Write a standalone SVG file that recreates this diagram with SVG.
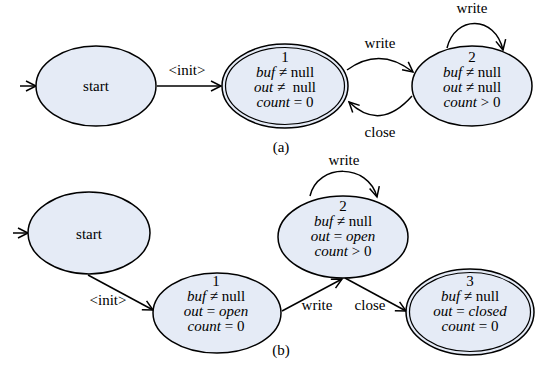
<svg xmlns="http://www.w3.org/2000/svg" width="542" height="369" viewBox="0 0 542 369">
<style>
.n{fill:#e5ebf6;stroke:#000;stroke-width:1.5}
.d{fill:none;stroke:#000;stroke-width:1.2}
.e{fill:none;stroke:#000;stroke-width:1.5}
text{font-family:'Liberation Serif','DejaVu Serif',serif;font-size:15px;fill:#000;text-anchor:middle;white-space:pre}
.i{font-style:italic}
</style>
<defs>
<marker id="ah" markerUnits="userSpaceOnUse" markerWidth="14" markerHeight="14" refX="11" refY="6" orient="auto" viewBox="0 0 14 12">
<path d="M1,1 L11,6 L1,11" fill="none" stroke="#000" stroke-width="1.5"/>
</marker>
</defs>
<g id="connectors">
<path class="e" d="M20,86 L36,86" marker-end="url(#ah)"/>
<path class="e" d="M157,86 L221,86" marker-end="url(#ah)"/>
<path class="e" d="M347,70 Q380,46 413,72" marker-end="url(#ah)"/>
<path class="e" d="M412,96 Q380,132 349,102" marker-end="url(#ah)"/>
<path class="e" d="M447,48 C455,15 495,15 503,50" marker-end="url(#ah)"/>
<path class="e" d="M13,233 L28,233" marker-end="url(#ah)"/>
<path class="e" d="M88,275 L153,310" marker-end="url(#ah)"/>
<path class="e" d="M310,196 C318,163 368,163 377,197" marker-end="url(#ah)"/>
<path class="e" d="M282,311 L342,279" marker-end="url(#ah)"/>
<path class="e" d="M345,278 L406,311" marker-end="url(#ah)"/>
<text x="187" y="75">&lt;init&gt;</text>
<text x="380" y="48">write</text>
<text x="380" y="137">close</text>
<text x="472" y="13">write</text>
<text x="344" y="165">write</text>
<text x="108" y="305">&lt;init&gt;</text>
<text x="317" y="310">write</text>
<text x="370" y="310">close</text>
</g>
<g id="a-start">
<ellipse class="n" cx="96" cy="86" rx="60" ry="40"/>
<text x="96" y="91" font-size="16">start</text>
</g>
<g id="a-state1">
<ellipse class="n" cx="285" cy="86" rx="63" ry="42"/>
<ellipse class="d" cx="285" cy="86" rx="59.5" ry="38.5"/>
<text x="285" y="62">1</text>
<text x="285" y="77"><tspan class="i">buf</tspan> ≠ null</text>
<text x="285" y="92"><tspan class="i">out</tspan> ≠  null</text>
<text x="285" y="107"><tspan class="i">count</tspan> = 0</text>
</g>
<g id="a-state2">
<ellipse class="n" cx="472" cy="86" rx="60" ry="40"/>
<text x="472" y="62">2</text>
<text x="472" y="77"><tspan class="i">buf</tspan> ≠ null</text>
<text x="472" y="92"><tspan class="i">out</tspan> ≠ null</text>
<text x="472" y="107"><tspan class="i">count</tspan> &gt; 0</text>
</g>
<text x="281" y="152">(a)</text>
<g id="b-start">
<ellipse class="n" cx="89" cy="233" rx="61" ry="41"/>
<text x="89" y="239" font-size="16">start</text>
</g>
<g id="b-state1">
<ellipse class="n" cx="217" cy="313" rx="64" ry="40"/>
<text x="216" y="286">1</text>
<text x="216" y="301"><tspan class="i">buf</tspan> ≠ null</text>
<text x="216" y="316"><tspan class="i">out</tspan> = <tspan class="i">open</tspan></text>
<text x="216" y="331"><tspan class="i">count</tspan> = 0</text>
</g>
<g id="b-state2">
<ellipse class="n" cx="343" cy="237" rx="65" ry="41"/>
<text x="343" y="211">2</text>
<text x="343" y="226"><tspan class="i">buf</tspan> ≠ null</text>
<text x="343" y="241"><tspan class="i">out</tspan> = <tspan class="i">open</tspan></text>
<text x="343" y="256"><tspan class="i">count</tspan> &gt; 0</text>
</g>
<g id="b-state3">
<ellipse class="n" cx="470" cy="312" rx="64" ry="43"/>
<ellipse class="d" cx="470" cy="312" rx="60.5" ry="39.5"/>
<text x="470" y="286">3</text>
<text x="470" y="301"><tspan class="i">buf</tspan> ≠ null</text>
<text x="470" y="316"><tspan class="i">out</tspan> = <tspan class="i">closed</tspan></text>
<text x="470" y="331"><tspan class="i">count</tspan> = 0</text>
</g>
<text x="281" y="355">(b)</text>
</svg>
